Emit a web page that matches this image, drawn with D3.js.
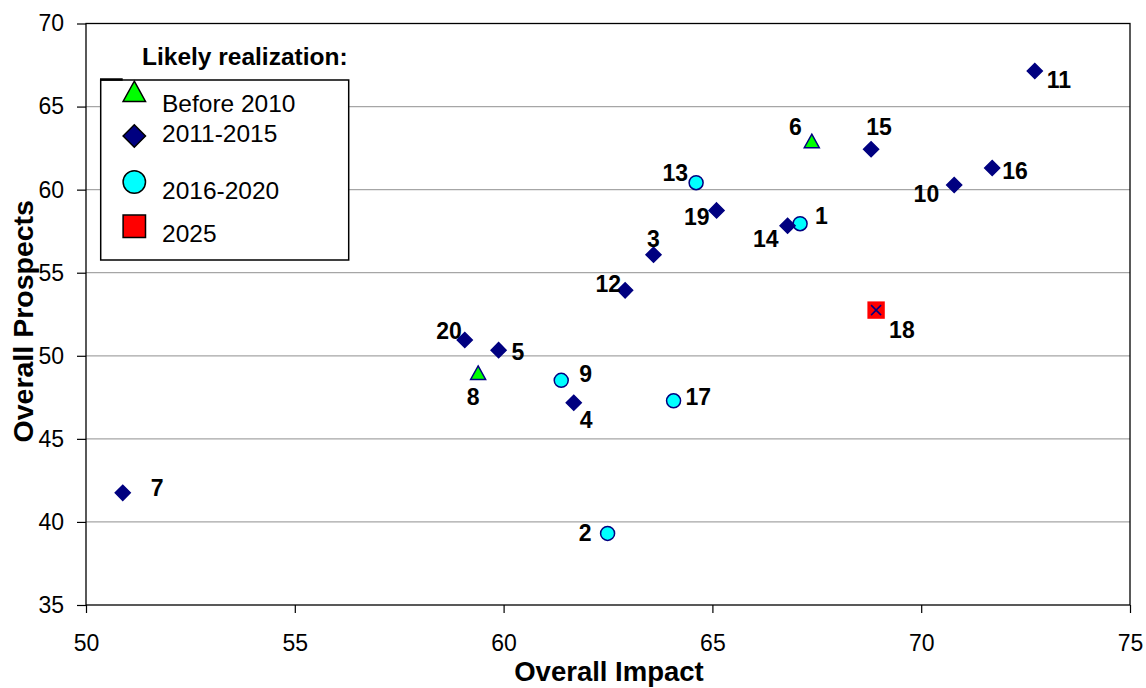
<!DOCTYPE html>
<html><head><meta charset="utf-8">
<script src="https://cdn.jsdelivr.net/npm/d3@7"></script>
<style>body{margin:0;background:#fff}svg{display:block}text{font-family:"Liberation Sans",Arial,sans-serif}</style>
</head><body>
<svg id="c" width="1146" height="688"></svg>
<script>
const ids = [1,2,3,4,5,6,7,8,9,10,11,12,13,14,15,16,17,18,19,20];
const impact = [67.10,62.49,63.59,61.68,59.88,67.38,50.88,59.39,61.38,70.79,72.72,62.91,64.61,66.80,68.80,71.70,64.07,68.92,65.10,59.07];
const prospects = [57.95,39.31,56.08,47.17,50.34,62.93,41.75,48.98,48.52,60.28,67.14,53.94,60.42,57.83,62.43,61.30,47.29,52.75,58.75,50.95];
const realization = ["2016-2020","2016-2020","2011-2015","2011-2015","2011-2015","Before 2010","2011-2015","Before 2010","2016-2020","2011-2015","2011-2015","2011-2015","2016-2020","2011-2015","2011-2015","2011-2015","2016-2020","2025","2011-2015","2011-2015"];
const categories = ["Before 2010","2011-2015","2016-2020","2025"];
const xTicks = [50,55,60,65,70,75];
const yTicks = [35,40,45,50,55,60,65,70];
const xTitle = "Overall Impact", yTitle = "Overall Prospects", legendTitle = "Likely realization:";

// label placement (layout only)
const labelPlace = {1:["start",15,0],2:["end",-16,8],3:["middle",0,-8],4:["start",6,25],5:["start",13,10],6:["end",-10,-6],7:["start",28,3],8:["middle",-5,32],9:["start",18,2],10:["end",-15,17],11:["start",12,17],12:["end",-4,2],13:["end",-8,-2],14:["end",-9,21],15:["middle",8,-14],16:["start",10,11],17:["start",12,4],18:["start",13,28],19:["end",-7,15],20:["end",-3,-1]};

const svg = d3.select("#c");
const L=86,R=1130,T=23.5,B=605;
const x = d3.scaleLinear().domain([50,75]).range([L,R]);
const y = d3.scaleLinear().domain([35,70]).range([B,T]);

// grid
svg.append("g").selectAll("line").data(yTicks.filter(v=>v>35&&v<70)).join("line")
 .attr("x1",L).attr("x2",R).attr("y1",d=>y(d)).attr("y2",d=>y(d))
 .attr("stroke","#a6a6a6").attr("stroke-width",1.2);

// frame
svg.append("rect").attr("x",L).attr("y",T).attr("width",R-L).attr("height",B-T)
 .attr("fill","none").attr("stroke","#000").attr("stroke-width",1.3);

const ya = svg.append("g").attr("transform",`translate(${L},0)`)
 .call(d3.axisLeft(y).tickValues(yTicks).tickSize(9).tickPadding(13));
const xa = svg.append("g").attr("transform",`translate(0,${B})`)
 .call(d3.axisBottom(x).tickValues(xTicks).tickSize(8).tickPadding(22));
[ya,xa].forEach(a=>{a.select(".domain").remove();a.selectAll("line").attr("stroke","#000").attr("stroke-width",1.2);
 a.selectAll("text").attr("font-size",23).attr("fill","#000").attr("font-family","'Liberation Sans',Arial,sans-serif");});

svg.append("text").attr("x",(L+R)/2+1).attr("y",681).attr("text-anchor","middle")
 .attr("font-size",27.5).attr("font-weight","bold").text(xTitle);
svg.append("text").attr("transform",`translate(33,${(T+B)/2+7}) rotate(-90)`).attr("text-anchor","middle")
 .attr("font-size",28.5).attr("font-weight","bold").text(yTitle);

const style = {
 "Before 2010":{shape:"tri",fill:"#00ff00"},
 "2011-2015":{shape:"dia",fill:"#000080"},
 "2016-2020":{shape:"cir",fill:"#00ffff"},
 "2025":{shape:"sq",fill:"#ff0000"}
};
function shapePath(shape,s){ // s = half size
 if(shape==="tri") return `M0,${-s*0.9}L${s},${s*0.9}L${-s},${s*0.9}Z`;
 if(shape==="dia") return `M0,${-s}L${s},0L0,${s}L${-s},0Z`;
 if(shape==="sq") return `M${-s},${-s}H${s}V${s}H${-s}Z`;
 return d3.arc()({innerRadius:0,outerRadius:s,startAngle:0,endAngle:2*Math.PI});
}
const plotSize = {tri:7.5,dia:7.5,cir:7,sq:8.7};

const pts = ids.map((id,i)=>({id,x:impact[i],y:prospects[i],c:realization[i]}));
const g = svg.append("g");
pts.forEach(p=>{
 const st=style[p.c];
 const cx=x(p.x), cy=y(p.y);
 const node=g.append("g").attr("transform",`translate(${cx},${cy})`);
 node.append("path").attr("d",shapePath(st.shape,plotSize[st.shape])).attr("fill",st.fill)
  .attr("stroke",st.shape==="sq"?"none":"#000080").attr("stroke-width",1.5);
 if(st.shape==="sq"){
  node.append("path").attr("d","M-5,-5L5,5M5,-5L-5,5").attr("stroke","#000080").attr("stroke-width",1.5);
 }
 const lp=labelPlace[p.id];
 g.append("text").attr("x",cx+lp[1]).attr("y",cy+lp[2]).attr("text-anchor",lp[0])
  .attr("font-size",23).attr("font-weight","bold").attr("fill","#000").text(p.id);
});

// legend
const lg = svg.append("g");
lg.append("text").attr("x",142).attr("y",65).attr("font-size",24.5).attr("font-weight","bold").text(legendTitle);
lg.append("rect").attr("x",100.7).attr("y",80).attr("width",248).attr("height",180)
 .attr("fill","#fff").attr("stroke","#000").attr("stroke-width",1.5);
lg.append("line").attr("x1",100).attr("x2",122.7).attr("y1",79.5).attr("y2",79.5).attr("stroke","#000").attr("stroke-width",2.5);
const legY=[91.3,136,182,226.3], legTextY=[112,141.5,199,242];
categories.forEach((c,i)=>{
 const st=style[c];
 lg.append("path").attr("transform",`translate(134.3,${legY[i]})`)
  .attr("d",shapePath(st.shape,11.2)).attr("fill",st.fill).attr("stroke","#000").attr("stroke-width",1.5);
 lg.append("text").attr("x",162).attr("y",legTextY[i]).attr("font-size",24.5).text(c);
});
</script>
</body></html>
